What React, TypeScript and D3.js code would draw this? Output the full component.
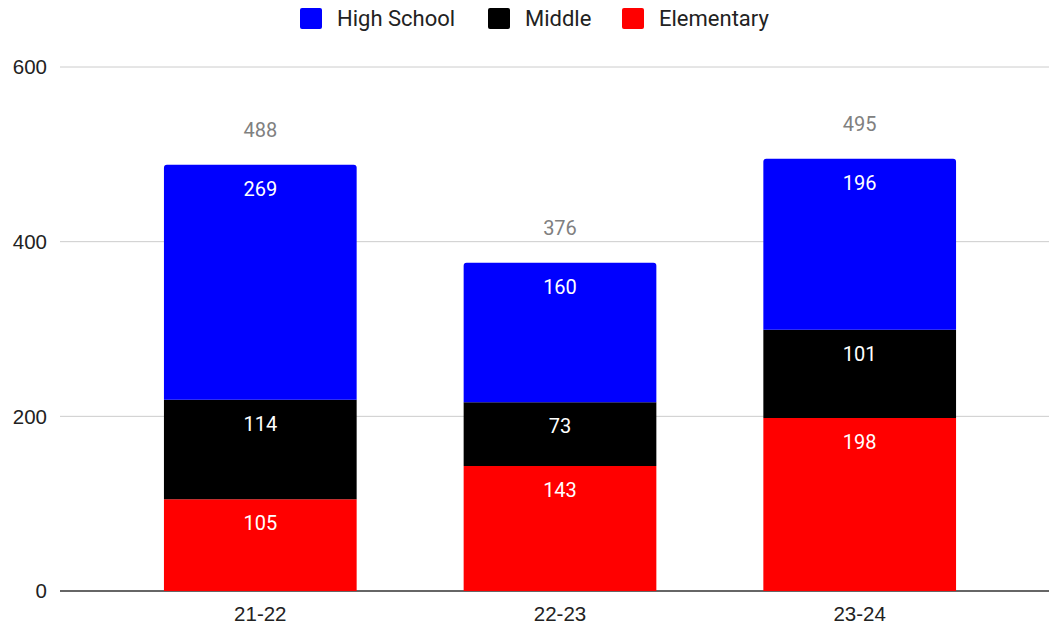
import React from "react";
import * as d3 from "d3";

const seasons = ["21-22", "22-23", "23-24"];
const elementary = [105, 143, 198];
const middle = [114, 73, 101];
const highSchool = [269, 160, 196];
const totals = [488, 376, 495];
const yTicks = [0, 200, 400, 600];

const seriesNames = ["Elementary", "Middle", "High School"];
const colors: Record<string, string> = {
  "High School": "#0000ff",
  Middle: "#000000",
  Elementary: "#ff0000",
};
const legendOrder = ["High School", "Middle", "Elementary"];

const width = 1049;
const height = 627;

export default function App() {
  const x = d3.scaleBand().domain(seasons).range([110, 1010]).paddingInner(0.357).paddingOuter(0.18);
  const y = d3.scaleLinear().domain([0, 600]).range([591, 67]);

  const rows = seasons.map((s, i) => ({
    season: s,
    Elementary: elementary[i],
    Middle: middle[i],
    "High School": highSchool[i],
  }));
  const stack = d3.stack<any>().keys(seriesNames)(rows);

  const legendX = [300, 488, 622];

  return (
    <svg width={width} height={height} style={{ position: "absolute", left: 0, top: 0 }}>
      <rect width={width} height={height} fill="#fff" />
      {yTicks.map((t) => (
        <g key={t}>
          <line x1={60} x2={width} y1={y(t)} y2={y(t)} stroke={t === 0 ? "#333" : "#ccc"} strokeWidth={t === 0 ? 1.5 : 1} />
          <text x={47} y={y(t)} dy="0.35em" textAnchor="end" fontFamily="Liberation Sans, Arial" fontSize={20.5} fill="#222">
            {t}
          </text>
        </g>
      ))}
      {stack.map((layer) =>
        layer.map((d, i) => {
          const x0 = x(seasons[i])!;
          const bw = x.bandwidth();
          const yTop = y(d[1]);
          const yBot = y(d[0]);
          const isTop = layer.key === "High School";
          const r = 3;
          const path = isTop
            ? `M${x0},${yBot}V${yTop + r}Q${x0},${yTop} ${x0 + r},${yTop}H${x0 + bw - r}Q${x0 + bw},${yTop} ${x0 + bw},${yTop + r}V${yBot}Z`
            : `M${x0},${yBot}V${yTop}H${x0 + bw}V${yBot}Z`;
          return (
            <g key={layer.key + i}>
              <path d={path} fill={colors[layer.key]} />
              <text
                x={x0 + bw / 2}
                y={yTop + 24}
                dy="0.35em"
                textAnchor="middle"
                fontFamily="Roboto, sans-serif"
                fontSize={20}
                fill="#fff"
              >
                {d[1] - d[0]}
              </text>
            </g>
          );
        })
      )}
      {seasons.map((s, i) => (
        <g key={s}>
          <text
            x={x(s)! + x.bandwidth() / 2}
            y={y(totals[i]) - 35}
            dy="0.35em"
            textAnchor="middle"
            fontFamily="Roboto, sans-serif"
            fontSize={20}
            fill="#808080"
          >
            {totals[i]}
          </text>
          <text
            x={x(s)! + x.bandwidth() / 2}
            y={614}
            dy="0.35em"
            textAnchor="middle"
            fontFamily="Liberation Sans, Arial"
            fontSize={20.5}
            fill="#222"
          >
            {s}
          </text>
        </g>
      ))}
      {legendOrder.map((k, i) => (
        <g key={k} transform={`translate(${legendX[i]},8)`}>
          <rect width={22} height={21} rx={2} fill={colors[k]} />
          <text x={37} y={10.5} dy="0.35em" fontFamily="Roboto, sans-serif" fontSize={22} fill="#222">
            {k}
          </text>
        </g>
      ))}
    </svg>
  );
}
